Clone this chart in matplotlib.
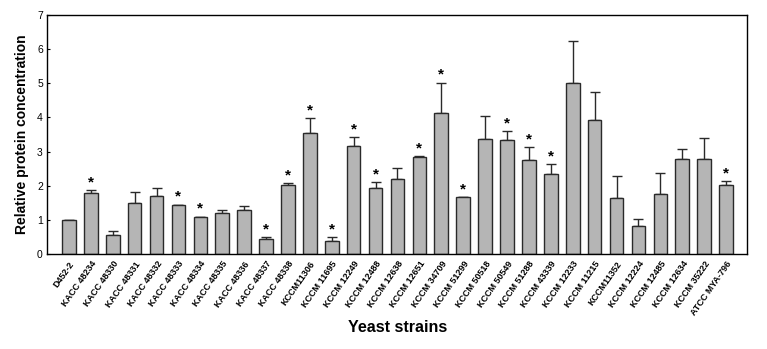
import matplotlib
matplotlib.use('Agg')
import matplotlib.pyplot as plt
import numpy as np

plt.rcParams['font.family'] = ['Liberation Sans', 'DejaVu Sans']

strains = ['D452-2', 'KACC 48234', 'KACC 48330', 'KACC 48331', 'KACC 48332',
           'KACC 48333', 'KACC 48334', 'KACC 48335', 'KACC 48336', 'KACC 48337',
           'KACC 48338', 'KCCM11306', 'KCCM 11695', 'KCCM 12249', 'KCCM 12488',
           'KCCM 12638', 'KCCM 12651', 'KCCM 34709', 'KCCM 51299', 'KCCM 50518',
           'KCCM 50549', 'KCCM 51288', 'KCCM 43339', 'KCCM 12233', 'KCCM 11215',
           'KCCM11352', 'KCCM 12224', 'KCCM 12485', 'KCCM 12634', 'KCCM 35222',
           'ATCC MYA-796']
conc = [1.00, 1.80, 0.55, 1.49, 1.71, 1.43, 1.08, 1.20, 1.28, 0.45,
        2.03, 3.54, 0.38, 3.15, 1.93, 2.20, 2.83, 4.14, 1.68, 3.37,
        3.33, 2.75, 2.33, 5.00, 3.92, 1.65, 0.81, 1.75, 2.79, 2.79, 2.01]
sd = [0.01, 0.07, 0.12, 0.32, 0.22, 0.02, 0.02, 0.09, 0.14, 0.04,
      0.04, 0.45, 0.13, 0.27, 0.17, 0.32, 0.03, 0.88, 0.0, 0.67,
      0.27, 0.38, 0.30, 1.24, 0.83, 0.65, 0.21, 0.63, 0.29, 0.61, 0.12]
significant = [False, True, False, False, False, True, True, False, False, True,
               True, True, True, True, True, False, True, True, True, False,
               True, True, True, False, False, False, False, False, False, False, True]

x = np.arange(len(strains))
conc = np.array(conc)
sd = np.array(sd)

fig = plt.figure(figsize=(7.67, 3.49), dpi=100)
ax = fig.add_axes([0.0613, 0.272, 0.913, 0.685])

ax.bar(x, conc, width=0.62, color='#b5b5b5', edgecolor='#2a2a2a', linewidth=1.0, zorder=2)
# upper error bars only
ax.errorbar(x, conc, yerr=[np.zeros_like(sd), sd], fmt='none', ecolor='#2a2a2a',
            elinewidth=1.0, capsize=3.5, capthick=1.0, zorder=1)

for xi, yi, ei, s in zip(x, conc, sd, significant):
    if s:
        ax.text(xi, yi + ei + 0.02, '*', ha='center', va='bottom',
                fontsize=11, fontweight='bold')

ax.set_xlim(-1.0, 30.97)
ax.set_ylim(0, 7)
ax.set_yticks(range(8))
ax.tick_params(axis='y', direction='in', length=2, labelsize=7.5, pad=3)
ax.set_xticks(x)
ax.set_xticklabels(strains, rotation=55, ha='right', rotation_mode='anchor',
                   fontsize=6.5, fontweight='bold')
ax.tick_params(axis='x', length=0, pad=4)
for sp in ax.spines.values():
    sp.set_linewidth(1.0)

ax.set_ylabel('Relative protein concentration', fontsize=10, fontweight='bold', labelpad=6)
fig.text(0.518, 0.04, 'Yeast strains', ha='center', va='bottom',
         fontsize=11.5, fontweight='bold')

fig.savefig('out.png', dpi=100)
